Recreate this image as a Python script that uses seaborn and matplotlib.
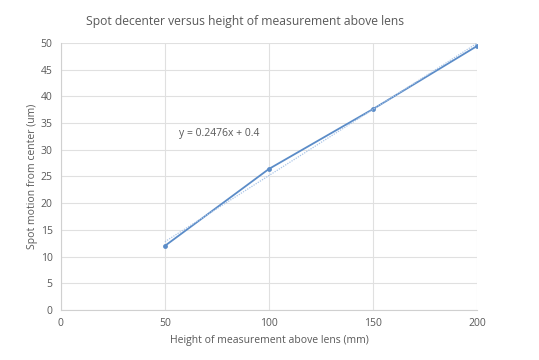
import numpy as np
import pandas as pd
import matplotlib
matplotlib.use("Agg")
import matplotlib.pyplot as plt
import seaborn as sns

heights = [50, 100, 150, 200]
decenter = [12.0, 26.4, 37.6, 49.4]
slope = 0.2476
intercept = 0.4
x_ticks = [0, 50, 100, 150, 200]
y_ticks = [0, 5, 10, 15, 20, 25, 30, 35, 40, 45, 50]

df = pd.DataFrame({"height": heights, "decenter": decenter})

sns.set_theme(style="whitegrid")
plt.rcParams["font.family"] = ["Open Sans", "DejaVu Sans"]

text_color = "#595959"
line_color = "#5b8cc8"

fig = plt.figure(figsize=(5.39, 3.6), dpi=100)
ax = fig.add_axes([0.113, 0.139, 0.772, 0.742])

sns.lineplot(data=df, x="height", y="decenter", ax=ax, color=line_color,
             linewidth=1.3, marker="o", markersize=3.5, markeredgewidth=0)

fit_x = np.array([heights[0], heights[-1]])
ax.plot(fit_x, slope * fit_x + intercept, color="#a9c4e6", linewidth=0.9,
        linestyle=(0, (1, 1)))

ax.text(57, 33, f"y = {slope}x + {intercept}", fontsize=7.5, color=text_color,
        va="center", ha="left")

ax.set_xlim(0, 200)
ax.set_ylim(0, 50)
ax.set_xticks(x_ticks)
ax.set_yticks(y_ticks)
ax.tick_params(axis="both", labelsize=7.5, colors=text_color, length=0, pad=6)
ax.grid(True, color="#e0e0e0", linewidth=0.8)
for side in ["top", "right"]:
    ax.spines[side].set_visible(False)
for side in ["left", "bottom"]:
    ax.spines[side].set_color("#d0d0d0")
    ax.spines[side].set_linewidth(0.8)

ax.set_xlabel("Height of measurement above lens (mm)", fontsize=7.5,
              color=text_color, labelpad=4)
ax.set_ylabel("Spot motion from center (um)", fontsize=7.5,
              color=text_color, labelpad=2)
fig.text(0.455, 0.94, "Spot decenter versus height of measurement above lens",
         fontsize=8.7, color=text_color, ha="center", va="center")

fig.savefig("out.png", dpi=100, facecolor="white")
